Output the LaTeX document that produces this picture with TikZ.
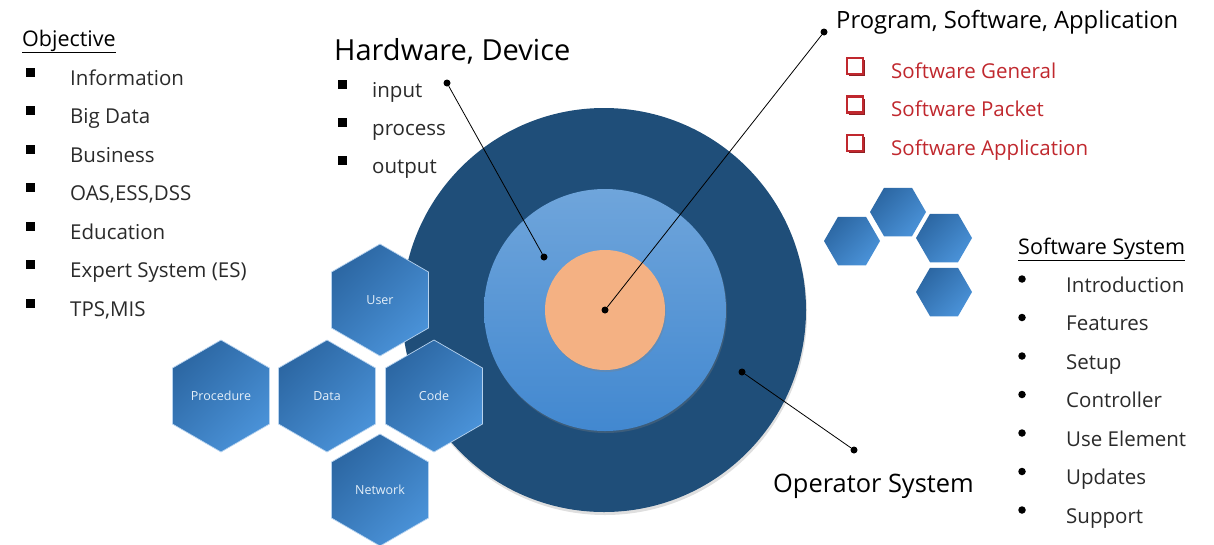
\documentclass[tikz,border=0pt]{standalone}
\usepackage{fontspec}
\setmainfont{Open Sans}
\usetikzlibrary{shapes.geometric,shadows}

\definecolor{osblue}{HTML}{1F4E79}
\definecolor{hwtop}{HTML}{6FA5DB}
\definecolor{hwbot}{HTML}{4288D0}
\definecolor{sworange}{HTML}{F4B183}
\definecolor{hexdark}{HTML}{2C67A3}
\definecolor{hexlight}{HTML}{4A92D8}
\definecolor{swred}{HTML}{C0282E}
\definecolor{txtgray}{HTML}{2A2A2A}

\tikzset{
  hexbig/.style={regular polygon,regular polygon sides=6,shape border rotate=30,minimum size=112pt,inner sep=0pt,
    top color=hexdark,bottom color=hexlight,shading angle=45,draw=hexlight!40!white,line width=0.7pt,
    text=white!85!hexlight,font=\fontsize{12.5}{14}\selectfont},
  hexsmall/.style={regular polygon,regular polygon sides=6,minimum size=56pt,inner sep=0pt,
    top color=hexdark,bottom color=hexlight,shading angle=45},
  dot/.style={circle,fill=black,minimum size=7pt,inner sep=0pt},
  itemtext/.style={anchor=base west,inner sep=0pt,text=txtgray,font=\fontsize{20.5}{24}\selectfont},
  redtext/.style={anchor=base west,inner sep=0pt,text=swred,font=\fontsize{20.5}{24}\selectfont},
  headtext/.style={anchor=base west,inner sep=0pt,text=black,font=\fontsize{21.5}{26}\selectfont},
  sqbullet/.style={fill=black,minimum size=9pt,inner sep=0pt},
  rdbullet/.style={circle,fill=black,minimum size=7.5pt,inner sep=0pt},
  chkbox/.style={draw=swred,fill=white,line width=2.4pt,minimum size=16pt,inner sep=0pt,
    drop shadow={shadow xshift=2.2pt,shadow yshift=-2.2pt,fill=swred!75!black,opacity=1}},
}

\begin{document}
\begin{tikzpicture}[x=1pt,y=-1pt]
\useasboundingbox (0,0) rectangle (1214,544);

% the three rings
\node[circle,fill=osblue,minimum size=404pt,inner sep=0pt,
  drop shadow={shadow xshift=1pt,shadow yshift=-3pt,opacity=.25}] (opsys) at (604,310) {};
\node[circle,top color=hwtop,bottom color=hwbot,minimum size=242pt,inner sep=0pt,
  drop shadow={shadow xshift=1pt,shadow yshift=-2pt,opacity=.3}] (hw) at (605,310) {};
\node[circle,fill=sworange,minimum size=120pt,inner sep=0pt,
  drop shadow={shadow xshift=1pt,shadow yshift=-2pt,opacity=.3}] (sw) at (605,310) {};

% left hexagons
\node[hexbig] (user)  at (380,300) {User};
\node[hexbig] (proc)  at (221,396) {Procedure};
\node[hexbig] (data)  at (327,396) {Data};
\node[hexbig] (code)  at (434,396) {Code};
\node[hexbig] (net)   at (380,490) {Network};

% right hexagons
\node[hexsmall] (hexA) at (852,241) {};
\node[hexsmall] (hexB) at (898,212) {};
\node[hexsmall] (hexC) at (944,238) {};
\node[hexsmall] (hexD) at (944,292) {};

% pointers
\node[dot] (hwdot)   at (447,83)  {};
\node[dot] (hwin)    at (544,257) {};
\node[dot] (progdot) at (824,32)  {};
\node[dot] (swin)    at (605,310) {};
\node[dot] (osin)    at (742,372) {};
\node[dot] (osdot)   at (854,450) {};
\draw[line width=0.8pt] (hwdot) -- (hwin);
\draw[line width=0.8pt] (progdot) -- (swin);
\draw[line width=0.8pt] (osin) -- (osdot);

% Objective
\node[headtext] (obj) at (22,46) {\underline{Objective}};
\foreach \txt [count=\i from 0] in {Information,Big Data,Business,{OAS,ESS,DSS},Education,Expert System (ES),{TPS,MIS}}{
  \node[sqbullet] (objb\i) at (30.5,72+38.5*\i) {};
  \node[itemtext] (obji\i) at (70,85+38.5*\i) {\txt};
}

% Hardware, Device
\node[anchor=base west,inner sep=0pt,font=\fontsize{29}{34}\selectfont] (hwtitle) at (334,60) {Hardware, Device};
\foreach \txt [count=\i from 0] in {input,process,output}{
  \node[sqbullet] (hwb\i) at (342,84+38*\i) {};
  \node[itemtext] (hwi\i) at (372,97+38*\i) {\txt};
}

% Program, Software, Application
\node[anchor=base west,inner sep=0pt,font=\fontsize{23.8}{28}\selectfont] (progtitle) at (836,28) {Program, Software, Application};
\foreach \txt [count=\i from 0] in {Software General,Software Packet,Software Application}{
  \node[chkbox] (swb\i) at (855,66+38.5*\i) {};
  \node[redtext] (swi\i) at (891,78+38.5*\i) {\txt};
}

% Software System
\node[headtext] (systitle) at (1018,254) {\underline{Software System}};
\foreach \txt [count=\i from 0] in {Introduction,Features,Setup,Controller,Use Element,Updates,Support}{
  \node[rdbullet] (sysb\i) at (1022,279+38.5*\i) {};
  \node[itemtext] (sysi\i) at (1066,292+38.5*\i) {\txt};
}

% Operator System
\node[anchor=base west,inner sep=0pt,font=\fontsize{25.4}{30}\selectfont] (ostitle) at (773,492) {Operator System};

\end{tikzpicture}
\end{document}
